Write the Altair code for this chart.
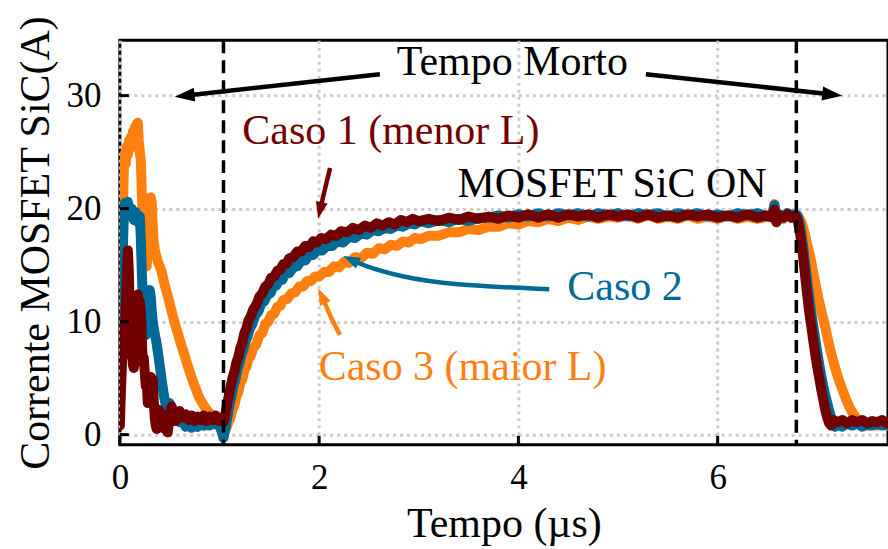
import math
import altair as alt
import pandas as pd

# ---------------------------------------------------------------------------
# Measured MOSFET SiC current, (time in us, current in A)
# ---------------------------------------------------------------------------
caso1 = [  # menor L
    (0.00, 0.8), (0.01, 3.7), (0.02, 6.0), (0.03, 8.5), (0.04, 7.0), (0.05, 9.0),
    (0.06, 11.5), (0.07, 14.0), (0.08, 16.3), (0.09, 14.5), (0.10, 10.0), (0.11, 7.3),
    (0.12, 8.5), (0.13, 6.2), (0.14, 5.9), (0.15, 7.0), (0.16, 9.5), (0.17, 11.5),
    (0.18, 12.4), (0.19, 11.0), (0.20, 11.8), (0.21, 10.9), (0.22, 8.5), (0.23, 6.4),
    (0.24, 6.8), (0.25, 5.5), (0.26, 4.3), (0.27, 4.8), (0.28, 2.8), (0.29, 3.5),
    (0.30, 4.2), (0.31, 5.1), (0.32, 4.6), (0.33, 4.9), (0.34, 3.0), (0.35, 1.5),
    (0.36, 0.8), (0.37, 0.5), (0.38, 1.5), (0.39, 2.2), (0.40, 2.0), (0.41, 1.2),
    (0.43, 1.8), (0.45, 0.5), (0.47, 0.9), (0.48, 0.2), (0.50, 1.6), (0.52, 2.5),
    (0.54, 1.8), (0.56, 1.2), (0.58, 1.6), (0.60, 2.1), (0.63, 1.5), (0.66, 1.8),
    (0.69, 1.3), (0.72, 1.7), (0.75, 1.2), (0.78, 1.6), (0.81, 1.3), (0.84, 1.7),
    (0.87, 1.2), (0.90, 1.6), (0.93, 1.3), (0.96, 1.7), (0.99, 1.2), (1.02, 1.5),
    (1.04, 1.1),
    (1.05, 1.4), (1.07, 2.4), (1.09, 3.3), (1.11, 4.2), (1.13, 5.0), (1.15, 5.6),
    (1.17, 6.4), (1.19, 6.9), (1.21, 7.7), (1.23, 8.2), (1.25, 9.0), (1.27, 9.4),
    (1.29, 10.1), (1.31, 10.4), (1.34, 11.1), (1.37, 11.5), (1.40, 12.2), (1.43, 12.5),
    (1.46, 13.1), (1.49, 13.3), (1.52, 13.9), (1.55, 14.0), (1.58, 14.5), (1.61, 14.6),
    (1.64, 15.1), (1.67, 15.1), (1.70, 15.6), (1.74, 15.7), (1.78, 16.2), (1.82, 16.2),
    (1.86, 16.7), (1.90, 16.6), (1.94, 17.1), (1.98, 17.0), (2.02, 17.4), (2.07, 17.3),
    (2.12, 17.7), (2.17, 17.6), (2.22, 18.0), (2.28, 17.9), (2.34, 18.3), (2.40, 18.1),
    (2.46, 18.5), (2.52, 18.3), (2.58, 18.7), (2.64, 18.5), (2.70, 18.8), (2.76, 18.6),
    (2.82, 19.0), (2.88, 18.8), (2.94, 19.1), (3.00, 18.9),
    (3.10, 19.1), (3.20, 18.9), (3.30, 19.2), (3.40, 19.0), (3.50, 19.3), (3.60, 19.1),
    (3.70, 19.3), (3.80, 19.1), (3.90, 19.4), (4.00, 19.2), (4.10, 19.5), (4.20, 19.2),
    (4.30, 19.5), (4.40, 19.2), (4.50, 19.5), (4.60, 19.3), (4.70, 19.5), (4.80, 19.2),
    (4.90, 19.5), (5.00, 19.3), (5.10, 19.5), (5.20, 19.2), (5.30, 19.5), (5.40, 19.2),
    (5.50, 19.4), (5.60, 19.2), (5.70, 19.5), (5.80, 19.3), (5.90, 19.5), (6.00, 19.2),
    (6.10, 19.4), (6.20, 19.2), (6.30, 19.5), (6.40, 19.2), (6.50, 19.4), (6.55, 19.2),
    (6.57, 19.9), (6.59, 18.8), (6.62, 19.4), (6.66, 19.2), (6.70, 19.5), (6.74, 19.2),
    (6.78, 19.4),
    (6.80, 19.1), (6.82, 18.2), (6.84, 17.0), (6.86, 15.6), (6.88, 13.9), (6.90, 12.3),
    (6.92, 10.8), (6.94, 9.6), (6.96, 8.3), (6.98, 7.1), (7.00, 6.0), (7.02, 5.0),
    (7.04, 4.0), (7.06, 3.1), (7.08, 2.2), (7.10, 1.5), (7.12, 1.0), (7.14, 0.8),
    (7.16, 1.3), (7.20, 1.1), (7.25, 1.3), (7.30, 1.0), (7.35, 1.3), (7.40, 1.1),
    (7.45, 1.3), (7.50, 1.0), (7.55, 1.2), (7.60, 1.1), (7.65, 1.3), (7.70, 1.0),
    (7.75, 1.2),
]

caso2 = [
    (0.00, 7.5), (0.01, 9.5), (0.02, 12.5), (0.03, 16.5), (0.04, 19.5), (0.05, 20.5),
    (0.06, 19.6), (0.07, 20.3), (0.08, 20.6), (0.10, 19.4), (0.12, 20.0), (0.14, 19.0),
    (0.16, 19.7), (0.18, 18.8), (0.20, 19.3), (0.21, 17.5), (0.22, 14.5), (0.23, 12.0),
    (0.24, 10.0), (0.25, 9.0), (0.26, 8.8), (0.27, 10.2), (0.28, 11.8), (0.29, 12.6),
    (0.30, 12.8), (0.31, 12.2), (0.32, 11.0), (0.33, 10.0), (0.34, 9.4), (0.35, 8.9),
    (0.36, 8.5), (0.37, 8.0), (0.38, 7.4), (0.39, 6.8), (0.40, 6.1), (0.41, 5.5),
    (0.42, 4.8), (0.43, 4.2), (0.44, 3.6), (0.45, 3.1), (0.46, 2.7), (0.47, 2.4),
    (0.48, 2.0), (0.49, 2.5), (0.50, 2.8), (0.51, 2.3), (0.52, 1.7), (0.54, 1.5),
    (0.56, 2.0), (0.58, 1.4), (0.60, 1.1), (0.63, 1.3), (0.66, 0.7), (0.69, 0.9),
    (0.72, 0.6), (0.75, 0.9), (0.78, 0.7), (0.81, 1.0), (0.84, 0.8), (0.87, 1.1),
    (0.90, 0.8), (0.93, 1.1), (0.96, 0.9), (0.99, 1.0), (1.01, 0.6), (1.03, 0.0),
    (1.04, -0.3),
    (1.06, 0.6), (1.08, 1.6), (1.10, 2.6), (1.12, 3.4), (1.14, 4.3), (1.16, 4.9),
    (1.18, 5.8), (1.20, 6.3), (1.22, 7.1), (1.24, 7.5), (1.26, 8.3), (1.28, 8.6),
    (1.30, 9.3), (1.33, 9.8), (1.36, 10.6), (1.39, 10.9), (1.42, 11.6), (1.45, 11.8),
    (1.48, 12.4), (1.51, 12.5), (1.54, 13.1), (1.57, 13.2), (1.60, 13.7), (1.63, 13.7),
    (1.66, 14.2), (1.70, 14.3), (1.74, 14.8), (1.78, 14.9), (1.82, 15.4), (1.86, 15.4),
    (1.90, 15.9), (1.94, 15.9), (1.98, 16.3), (2.03, 16.3), (2.08, 16.7), (2.13, 16.7),
    (2.18, 17.1), (2.24, 17.0), (2.30, 17.5), (2.36, 17.4), (2.42, 17.8), (2.48, 17.7),
    (2.54, 18.1), (2.60, 18.0), (2.66, 18.3), (2.72, 18.2), (2.78, 18.5), (2.84, 18.4),
    (2.90, 18.7), (2.96, 18.6), (3.02, 18.9), (3.10, 18.7), (3.20, 19.0), (3.30, 18.8),
    (3.40, 19.1), (3.50, 18.9), (3.60, 19.2),
    (3.70, 19.2), (3.80, 19.4), (3.90, 19.2), (4.00, 19.5), (4.10, 19.3), (4.20, 19.6),
    (4.30, 19.3), (4.40, 19.6), (4.50, 19.4), (4.60, 19.6), (4.70, 19.3), (4.80, 19.6),
    (4.90, 19.4), (5.00, 19.6), (5.10, 19.3), (5.20, 19.6), (5.30, 19.4), (5.40, 19.6),
    (5.50, 19.3), (5.60, 19.6), (5.70, 19.4), (5.80, 19.6), (5.90, 19.3), (6.00, 19.5),
    (6.10, 19.3), (6.20, 19.6), (6.30, 19.4), (6.40, 19.6), (6.50, 19.3), (6.55, 19.5),
    (6.57, 20.3), (6.59, 18.9), (6.62, 19.5), (6.66, 19.3), (6.70, 19.6), (6.74, 19.4),
    (6.78, 19.5),
    (6.80, 19.4), (6.82, 18.8), (6.84, 17.8), (6.86, 16.5), (6.88, 15.0), (6.90, 13.5),
    (6.92, 12.1), (6.94, 10.8), (6.96, 9.6), (6.98, 8.4), (7.00, 7.3), (7.02, 6.2),
    (7.04, 5.2), (7.06, 4.3), (7.08, 3.5), (7.10, 2.8), (7.12, 2.1), (7.14, 1.5),
    (7.16, 1.1), (7.18, 0.7), (7.20, 0.9), (7.25, 0.7), (7.30, 1.0), (7.35, 0.8),
    (7.40, 1.0), (7.45, 0.7), (7.50, 0.9), (7.55, 0.8), (7.60, 1.0), (7.65, 0.8),
    (7.70, 0.9), (7.75, 0.8),
]

caso3 = [  # maior L
    (0.00, 9.5), (0.01, 12.0), (0.02, 16.0), (0.03, 20.0), (0.04, 23.5), (0.05, 24.9),
    (0.06, 24.0), (0.07, 25.5), (0.08, 24.8), (0.09, 26.0), (0.10, 25.3), (0.11, 26.3),
    (0.12, 25.6), (0.13, 26.8), (0.14, 26.0), (0.15, 27.2), (0.16, 26.4), (0.17, 27.5),
    (0.18, 27.6), (0.19, 26.0), (0.20, 25.0), (0.21, 24.3), (0.22, 21.5), (0.23, 19.0),
    (0.24, 17.0), (0.25, 15.5), (0.26, 15.0), (0.27, 14.9), (0.28, 17.0), (0.29, 19.5),
    (0.30, 20.8), (0.31, 21.0), (0.32, 20.5), (0.33, 18.5), (0.34, 17.0), (0.35, 16.4),
    (0.36, 16.0), (0.37, 15.7), (0.38, 15.3), (0.40, 14.9), (0.42, 14.4), (0.44, 13.6),
    (0.46, 12.9), (0.48, 12.3), (0.50, 11.6), (0.52, 10.9), (0.55, 9.9), (0.58, 9.0),
    (0.61, 8.1), (0.64, 7.3), (0.67, 6.4), (0.70, 5.6), (0.73, 4.8), (0.76, 4.1),
    (0.79, 3.4), (0.82, 2.9), (0.85, 2.5), (0.88, 2.1), (0.91, 1.8), (0.94, 1.6),
    (0.97, 1.4), (1.00, 1.2), (1.02, 0.9), (1.04, 0.4),
    (1.05, 0.3), (1.07, 0.6), (1.09, 1.1), (1.11, 1.5), (1.13, 2.2), (1.15, 2.6),
    (1.17, 3.4), (1.19, 3.8), (1.21, 4.6), (1.23, 4.9), (1.25, 5.7), (1.27, 6.0),
    (1.29, 6.7), (1.31, 6.9), (1.34, 7.7), (1.37, 8.0), (1.40, 8.8), (1.43, 9.0),
    (1.46, 9.8), (1.49, 10.0), (1.52, 10.6), (1.55, 10.7), (1.58, 11.3), (1.61, 11.4),
    (1.64, 11.9), (1.68, 12.0), (1.72, 12.5), (1.76, 12.6), (1.80, 13.1), (1.84, 13.1),
    (1.88, 13.6), (1.92, 13.6), (1.96, 14.0), (2.00, 14.0), (2.05, 14.4), (2.10, 14.4),
    (2.15, 14.9), (2.20, 14.8), (2.25, 15.3), (2.30, 15.2), (2.36, 15.7), (2.42, 15.6),
    (2.48, 16.1), (2.54, 16.0), (2.60, 16.5), (2.66, 16.4), (2.72, 16.8), (2.78, 16.7),
    (2.84, 17.1), (2.90, 17.0), (2.96, 17.4), (3.02, 17.3), (3.10, 17.6), (3.20, 17.6),
    (3.30, 17.9), (3.40, 17.9), (3.50, 18.2), (3.60, 18.1), (3.70, 18.4), (3.80, 18.4),
    (3.90, 18.7), (4.00, 18.6), (4.10, 18.9), (4.20, 18.8), (4.30, 19.1), (4.40, 18.9),
    (4.50, 19.2), (4.60, 19.0), (4.70, 19.3), (4.80, 19.1), (4.90, 19.3),
    (5.00, 19.2), (5.10, 19.4), (5.20, 19.1), (5.30, 19.4), (5.40, 19.1), (5.50, 19.3),
    (5.60, 19.1), (5.70, 19.4), (5.80, 19.1), (5.90, 19.3), (6.00, 19.1), (6.10, 19.4),
    (6.20, 19.1), (6.30, 19.3), (6.40, 19.1), (6.50, 19.3), (6.55, 19.4), (6.57, 20.4),
    (6.59, 18.8), (6.62, 19.3), (6.66, 19.1), (6.70, 19.4), (6.74, 19.2), (6.78, 19.4),
    (6.80, 19.4), (6.83, 19.0), (6.85, 18.6), (6.88, 17.6), (6.90, 16.8), (6.93, 15.7),
    (6.96, 14.3), (6.99, 13.0), (7.02, 11.7), (7.05, 10.6), (7.08, 9.5), (7.11, 8.3),
    (7.14, 7.2), (7.17, 6.2), (7.20, 5.3), (7.23, 4.5), (7.26, 3.8), (7.29, 3.1),
    (7.32, 2.5), (7.35, 2.0), (7.38, 1.6), (7.41, 1.2), (7.44, 0.9), (7.48, 1.0),
    (7.52, 0.8), (7.56, 1.0), (7.60, 0.8), (7.65, 1.0), (7.70, 0.8), (7.75, 0.9),
]

# dead-time boundaries (us)
dead_time = [1.04, 6.79]

# tick positions
x_ticks = [0, 2, 4, 6]
y_ticks = [0, 10, 20, 30]

# annotation texts: (x, y, text, colour)
labels = [
    (3.94, 33.0, "Tempo Morto", "#000000"),
    (2.72, 26.9, "Caso 1 (menor L)", "#720000"),
    (4.94, 22.2, "MOSFET SiC ON", "#000000"),
    (5.07, 13.1, "Caso 2", "#006a96"),
    (3.44, 6.0, "Caso 3 (maior L)", "#ff800e"),
]

# annotation arrows: path points (last point = tip), colour, line width, head length
arrows = [
    ([(2.61, 31.9), (0.55, 29.9)], "#000000", 4.5, 20),
    ([(5.28, 31.9), (7.25, 30.0)], "#000000", 4.5, 20),
    ([(2.11, 23.6), (2.06, 21.8), (2.01, 19.9), (1.99, 19.1)], "#720000", 4.5, 17),
    ([(4.31, 12.87), (3.31, 13.25), (2.81, 13.99), (2.47, 14.87), (2.24, 15.81)], "#006a96", 4.5, 17),
    ([(2.21, 8.83), (2.12, 10.3), (2.06, 11.63), (1.99, 12.96)], "#ff800e", 4.5, 17),
]

COL1, COL2, COL3 = "#720000", "#006a96", "#ff800e"
X_DOMAIN = [0, 7.71]
Y_DOMAIN = [-0.9, 34.9]
W, H = 769, 405
FONT = "Liberation Serif"


def to_px(x, y):
    px = (x - X_DOMAIN[0]) / (X_DOMAIN[1] - X_DOMAIN[0]) * W
    py = H - (y - Y_DOMAIN[0]) / (Y_DOMAIN[1] - Y_DOMAIN[0]) * H
    return px, py


def to_data(px, py):
    x = X_DOMAIN[0] + px / W * (X_DOMAIN[1] - X_DOMAIN[0])
    y = Y_DOMAIN[0] + (H - py) / H * (Y_DOMAIN[1] - Y_DOMAIN[0])
    return x, y


xs = alt.Scale(domain=X_DOMAIN, nice=False, zero=False)
ys = alt.Scale(domain=Y_DOMAIN, nice=False, zero=False)

axis_common = dict(
    labelFont=FONT, labelFontSize=35, labelColor="black", labelFlush=False,
    titleFont=FONT, titleFontSize=42, titleFontWeight="normal", titleColor="black",
    ticks=False, tickSize=0, domain=False, format="d",
    grid=True, gridColor="#cccccc", gridDash=[3, 4], gridWidth=3,
)
X_AXIS = alt.Axis(values=x_ticks, title="Tempo (µs)", labelPadding=16, titlePadding=8,
                  **axis_common)
Y_AXIS = alt.Axis(values=y_ticks, title="Corrente MOSFET SiC(A)", labelPadding=19,
                  titlePadding=8, **axis_common)


def X(field):
    return alt.X(field, scale=xs, axis=X_AXIS)


def Y(field):
    return alt.Y(field, scale=ys, axis=Y_AXIS)


def curve(data, color):
    df = pd.DataFrame(data, columns=["t", "i"])
    return alt.Chart(df).mark_line(
        color=color, strokeWidth=10, strokeJoin="round", strokeCap="round", clip=True
    ).encode(x=X("t:Q"), y=Y("i:Q"), order="t:Q")


layers = [curve(caso3, COL3), curve(caso2, COL2), curve(caso1, COL1)]

# dashed dead-time limits
layers.append(
    alt.Chart(pd.DataFrame({"t": dead_time})).mark_rule(
        color="black", strokeWidth=3.5, strokeDash=[13, 7]
    ).encode(x=X("t:Q"))
)

# inward ticks
layers.append(
    alt.Chart(pd.DataFrame({"t": x_ticks})).mark_rule(color="black", strokeWidth=3).encode(
        x=X("t:Q"), y=alt.value(H), y2=alt.value(H - 9))
)
layers.append(
    alt.Chart(pd.DataFrame({"i": y_ticks})).mark_rule(color="black", strokeWidth=3).encode(
        y=Y("i:Q"), x=alt.value(0), x2=alt.value(9))
)

# arrows: shafts and heads
shaft_rows, head_rows = [], []
for k, (pts, color, lw, head) in enumerate(arrows):
    tip = to_px(*pts[-1])
    prev = to_px(*pts[-2])
    dx, dy = tip[0] - prev[0], tip[1] - prev[1]
    n = math.hypot(dx, dy)
    ang = math.degrees(math.atan2(dx, -dy)) % 360
    end = to_data(tip[0] - dx / n * head * 0.6, tip[1] - dy / n * head * 0.6)
    path = pts[:-1] + [end]
    for j, (x, y) in enumerate(path):
        shaft_rows.append({"id": k, "j": j, "x": x, "y": y, "c": color, "w": lw})
    head_rows.append({"x": pts[-1][0], "y": pts[-1][1], "c": color, "ang": ang, "sz": head * head})

layers.append(
    alt.Chart(pd.DataFrame(shaft_rows)).mark_line(interpolate="basis", strokeCap="butt").encode(
        x=X("x:Q"), y=Y("y:Q"),
        detail="id:N", order="j:Q",
        color=alt.Color("c:N", scale=None), strokeWidth=alt.StrokeWidth("w:Q", scale=None))
)
layers.append(
    alt.Chart(pd.DataFrame(head_rows)).mark_point(
        shape="M0,0L0.7,2L-0.7,2Z", filled=True, opacity=1, strokeWidth=0
    ).encode(
        x=X("x:Q"), y=Y("y:Q"),
        color=alt.Color("c:N", scale=None), angle=alt.Angle("ang:Q", scale=None),
        size=alt.Size("sz:Q", scale=None))
)

# annotation texts
layers.append(
    alt.Chart(pd.DataFrame(labels, columns=["x", "y", "txt", "c"])).mark_text(
        font=FONT, fontSize=42, align="center", baseline="middle"
    ).encode(
        x=X("x:Q"), y=Y("y:Q"),
        text="txt:N", color=alt.Color("c:N", scale=None))
)

chart = alt.layer(*layers).properties(
    width=W, height=H,
    autosize="none",
    padding={"left": 120, "top": 40, "right": 0, "bottom": 104},
    background="white",
).configure_view(stroke="black", strokeWidth=3)

chart.save("out.html", embed_options={"renderer": "svg", "actions": False})
